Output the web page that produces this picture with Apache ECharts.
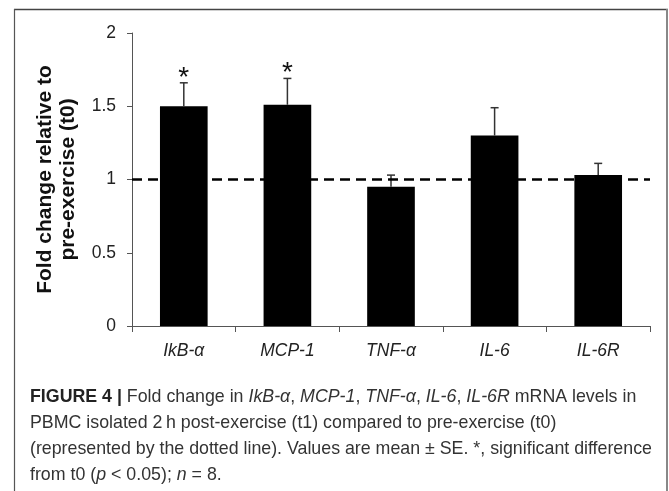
<!DOCTYPE html>
<html>
<head>
<meta charset="utf-8">
<script src="https://cdn.jsdelivr.net/npm/echarts@6/dist/echarts.min.js"></script>
<style>
html,body{margin:0;padding:0;background:#fff;}
#chart{width:669px;height:491px;}
</style>
</head>
<body>
<div id="chart"></div>
<script>
const categories = ['IkB-α', 'MCP-1', 'TNF-α', 'IL-6', 'IL-6R'];
const meanValues = [1.50, 1.51, 0.95, 1.30, 1.03];
const seValues = [0.16, 0.18, 0.08, 0.19, 0.08];
const sigFlags = ['*', '*', '', '', ''];
const yTicks = [0, 0.5, 1, 1.5, 2];
const baselineValue = 1;

const FONT = '"Liberation Sans", Arial, sans-serif';
const chart = echarts.init(document.getElementById('chart'), null, {renderer: 'canvas'});

const captionLines = [
  '{b|FIGURE 4 |} Fold change in {i|IkB-α}, {i|MCP-1}, {i|TNF-α}, {i|IL-6}, {i|IL-6R} mRNA levels in',
  'PBMC isolated 2\u2009h post-exercise (t1) compared to pre-exercise (t0)',
  '(represented by the dotted line). Values are mean ± SE. *, significant difference',
  'from t0 ({i|p} < 0.05); {i|n} = 8.'
];
const captionY = [397, 423, 449, 475];
const CAP_FS = 17.8;
const capRich = {
  b: {fontFamily: FONT, fontSize: CAP_FS, fontWeight: 'bold', fill: '#222'},
  i: {fontFamily: FONT, fontSize: CAP_FS, fontStyle: 'italic', fill: '#333'}
};

const graphics = [
  {type: 'line', shape: {x1: 14, y1: 9.5, x2: 668, y2: 9.5}, style: {stroke: '#444', lineWidth: 1.5}},
  {type: 'line', shape: {x1: 14.5, y1: 9, x2: 14.5, y2: 491}, style: {stroke: '#555', lineWidth: 1.2}},
  {type: 'line', shape: {x1: 667, y1: 9, x2: 667, y2: 491}, style: {stroke: '#888', lineWidth: 2}}
];
captionLines.forEach((t, k) => {
  graphics.push({
    type: 'text', x: 30, y: captionY[k],
    style: {text: t, fontFamily: FONT, fontSize: CAP_FS, fill: '#333', rich: capRich, verticalAlign: 'middle', align: 'left'}
  });
});

const option = {
  backgroundColor: '#fff',
  animation: false,
  textStyle: {fontFamily: FONT},
  grid: {left: 132, right: 19, top: 33, bottom: 165, containLabel: false},
  xAxis: {
    type: 'category',
    data: categories,
    axisLine: {lineStyle: {color: '#555', width: 1}},
    axisTick: {show: true, length: 6, lineStyle: {color: '#555'}, alignWithLabel: false},
    axisLabel: {fontFamily: FONT, fontSize: 17.5, fontStyle: 'italic', color: '#222', margin: 16}
  },
  yAxis: {
    type: 'value', min: 0, max: 2, interval: 0.5,
    name: 'Fold change relative to\npre-exercise (t0)',
    nameLocation: 'middle', nameGap: 52,
    nameTextStyle: {fontFamily: FONT, fontSize: 21, fontWeight: 'bold', color: '#111', lineHeight: 23},
    axisLine: {show: true, lineStyle: {color: '#555', width: 1}},
    axisTick: {show: true, length: 5, lineStyle: {color: '#555'}},
    splitLine: {show: false},
    axisLabel: {
      fontFamily: FONT, fontSize: 17.5, color: '#222', margin: 16,
      formatter: v => (yTicks.indexOf(v) >= 0 ? String(v) : '')
    }
  },
  series: [
    {
      type: 'line', data: [], z: 1,
      markLine: {
        silent: true, symbol: 'none', label: {show: false},
        lineStyle: {color: '#000', type: [10, 6], width: 2.5},
        data: [{yAxis: baselineValue}]
      }
    },
    {
      type: 'bar', data: meanValues, barWidth: '46%', z: 3,
      itemStyle: {color: '#000'}
    },
    {
      type: 'custom', z: 4,
      data: meanValues.map((m, i) => [i, m, seValues[i]]),
      renderItem: function (params, api) {
        const i = api.value(0), m = api.value(1), se = api.value(2);
        const p0 = api.coord([i, m]);
        const p1 = api.coord([i, m + se]);
        const children = [
          {type: 'line', shape: {x1: p0[0], y1: p0[1], x2: p1[0], y2: p1[1]}, style: {stroke: '#333', lineWidth: 1.5}},
          {type: 'line', shape: {x1: p1[0] - 4, y1: p1[1], x2: p1[0] + 4, y2: p1[1]}, style: {stroke: '#333', lineWidth: 1.5}}
        ];
        const f = sigFlags[params.dataIndex];
        if (f) {
          children.push({type: 'text', x: p1[0], y: p1[1] - 5,
            style: {text: f, fontFamily: FONT, fontSize: 28, fill: '#111', align: 'center', verticalAlign: 'middle'}});
        }
        return {type: 'group', children: children};
      }
    }
  ],
  graphic: graphics
};
chart.setOption(option);
</script>
</body>
</html>
